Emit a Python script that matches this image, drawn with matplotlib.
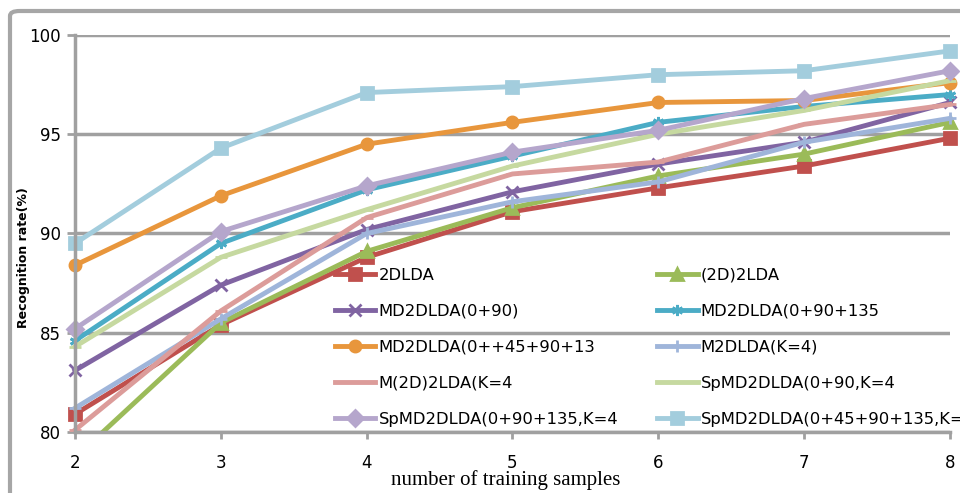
import matplotlib
matplotlib.use("Agg")
import matplotlib.pyplot as plt
from matplotlib.patches import FancyBboxPatch
from matplotlib.transforms import Bbox, TransformedBbox

samples = [2, 3, 4, 5, 6, 7, 8]

lda_2d = [80.9, 85.4, 88.8, 91.1, 92.3, 93.4, 94.8]
lda_2d2 = [78.7, 85.5, 89.1, 91.3, 92.9, 94.0, 95.6]
md_0_90 = [83.1, 87.4, 90.2, 92.1, 93.5, 94.6, 96.6]
md_0_90_135 = [84.6, 89.5, 92.2, 93.9, 95.6, 96.4, 97.0]
md_0_45_90_135 = [88.4, 91.9, 94.5, 95.6, 96.6, 96.7, 97.6]
m2dlda_k4 = [81.2, 85.7, 90.0, 91.6, 92.6, 94.6, 95.8]
m2d2lda_k4 = [80.1, 86.1, 90.8, 93.0, 93.6, 95.5, 96.5]
sp_0_90 = [84.3, 88.8, 91.2, 93.4, 95.0, 96.2, 97.7]
sp_0_90_135 = [85.2, 90.1, 92.4, 94.1, 95.2, 96.8, 98.2]
sp_0_45_90_135 = [89.5, 94.3, 97.1, 97.4, 98.0, 98.2, 99.2]

labels = [
    "2DLDA",
    "(2D)2LDA",
    "MD2DLDA(0+90)",
    "MD2DLDA(0+90+135",
    "MD2DLDA(0++45+90+13",
    "M2DLDA(K=4)",
    "M(2D)2LDA(K=4",
    "SpMD2DLDA(0+90,K=4",
    "SpMD2DLDA(0+90+135,K=4",
    "SpMD2DLDA(0+45+90+135,K=",
]

series = [lda_2d, lda_2d2, md_0_90, md_0_90_135, md_0_45_90_135,
          m2dlda_k4, m2d2lda_k4, sp_0_90, sp_0_90_135, sp_0_45_90_135]

colors = ["#C0504D", "#9BBB59", "#8064A2", "#4BACC6", "#E8963C",
          "#9FB5DA", "#DC9C9A", "#C6D9A0", "#B5A6CC", "#A3CDDD"]

markers = ["s", "^", "x", (6, 2, 0), "o", "+", "_", "_", "D", "s"]

fig = plt.figure(figsize=(9.6, 4.93), dpi=100)
ax = fig.add_axes([75 / 960, 1 - 432 / 493, 875 / 960, 397 / 493])

# clip below the x axis only, so the markers at x=8 are drawn whole
clip = TransformedBbox(Bbox([[-0.05, 0], [1.05, 1.05]]), ax.transAxes)

handles = []
for vals, lab, col, mk in zip(series, labels, colors, markers):
    line, = ax.plot(
        samples,
        vals,
        color=col,
        linewidth=3.5,
        marker=mk,
        markersize=8,
        markeredgewidth=2,
        markerfacecolor=col,
        markeredgecolor=col,
        label=lab,
    )
    line.set_clip_box(clip)
    handles.append(line)

ax.set_xlim(2, 8)
ax.set_ylim(80, 100)
ax.set_xticks(samples)
ax.set_yticks([80, 85, 90, 95, 100])

ax.grid(True, axis="y", color="#a0a0a0", linewidth=2.5)
ax.set_axisbelow(True)
for side in ["top", "right"]:
    ax.spines[side].set_visible(False)
for side in ["left", "bottom"]:
    ax.spines[side].set_color("#a0a0a0")
    ax.spines[side].set_linewidth(2.5)

ax.tick_params(axis="y", length=6, width=2, color="#a0a0a0",
               labelsize=12, pad=4)
ax.tick_params(axis="x", length=5, width=2, color="#a0a0a0",
               labelsize=12, pad=11)

order = [0, 2, 4, 6, 8, 1, 3, 5, 7, 9]
ax.legend(
    [handles[i] for i in order],
    [labels[i] for i in order],
    ncol=2,
    frameon=False,
    fontsize=11.8,
    handlelength=2.45,
    handletextpad=0.2,
    labelspacing=1.28,
    columnspacing=2.4,
    loc="upper left",
    bbox_to_anchor=(335 / 960, 1 - 268 / 493),
    bbox_transform=fig.transFigure,
    borderaxespad=0,
    borderpad=0,
)

fig.text(506 / 960, 1 - 480 / 493, "number of training samples",
         family="Liberation Serif", fontsize=15, ha="center", va="center")
fig.text(24 / 960, 1 - 258 / 493, "Recognition rate(%)",
         fontsize=9, fontweight="bold", rotation=90,
         ha="center", va="center")

border = FancyBboxPatch(
    (10 / 960, -0.1), 1.2, 1.1 - 11 / 493,
    boxstyle="round,pad=0,rounding_size=0.01",
    transform=fig.transFigure,
    facecolor="none",
    edgecolor="#a6a6a6",
    linewidth=3,
)
fig.patches.append(border)

fig.savefig("out.png", dpi=100)
